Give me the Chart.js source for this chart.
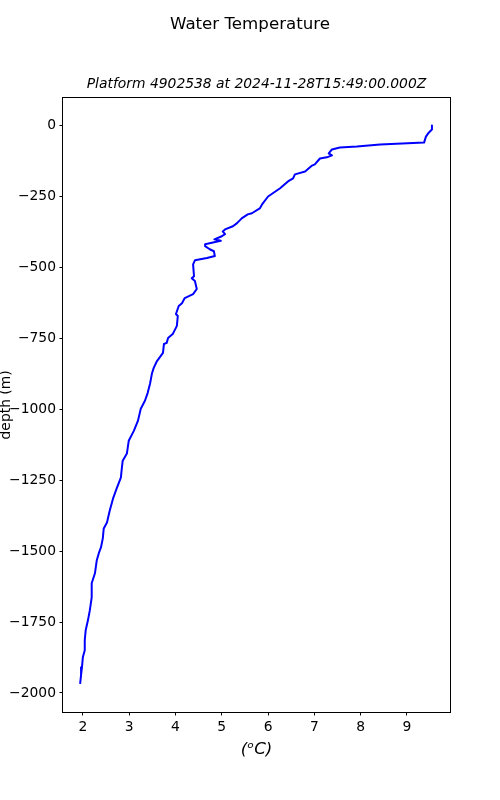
<!DOCTYPE html>
<html>
<head>
<meta charset="utf-8">
<script src="https://cdn.jsdelivr.net/npm/chart.js@4"></script>
<style>
  html, body { margin: 0; padding: 0; background: #fff; }
  canvas { display: block; }
</style>
</head>
<body>
<canvas id="profileChart" width="500" height="800"></canvas>
<script>
// temperature (deg C) and depth (m), top to bottom
const temperature = [
    9.54, 9.54, 9.47, 9.41, 9.37, 8.42, 7.92, 7.55, 7.38, 7.31,
    7.38, 7.27, 7.12, 7.01, 6.95, 6.80, 6.58, 6.54, 6.43, 6.36,
    6.26, 6.00, 5.87, 5.82, 5.65, 5.56, 5.43, 5.33, 5.24, 5.07,
    5.02, 5.07, 5.00, 4.84, 4.98, 4.64, 4.64, 4.74, 4.83, 4.85,
    4.68, 4.42, 4.38, 4.40, 4.35, 4.42, 4.46, 4.38, 4.20, 4.14,
    4.07, 4.01, 4.05, 4.03, 3.94, 3.84, 3.81, 3.75, 3.73, 3.60,
    3.53, 3.49, 3.45, 3.40, 3.34, 3.25, 3.19, 3.10, 2.99, 2.95,
    2.86, 2.84, 2.82, 2.73, 2.65, 2.58, 2.52, 2.45, 2.43, 2.39,
    2.35, 2.30, 2.26, 2.19, 2.19, 2.15, 2.11, 2.06, 2.04, 2.04,
    2.00, 1.98, 1.96, 1.94
];
const depth = [
    0, -14, -25, -39, -60, -67, -74, -77, -84, -98,
    -105, -112, -116, -137, -141, -162, -172, -186, -197, -207,
    -221, -250, -278, -292, -309, -313, -327, -344, -355, -366,
    -373, -383, -390, -401, -406, -418, -425, -436, -443, -460,
    -467, -475, -489, -531, -538, -548, -576, -594, -608, -626,
    -636, -664, -671, -706, -735, -749, -766, -770, -801, -830,
    -854, -875, -910, -942, -970, -998, -1040, -1076, -1111, -1156,
    -1181, -1209, -1241, -1279, -1315, -1357, -1399, -1420, -1455, -1487,
    -1504, -1532, -1578, -1613, -1663, -1708, -1743, -1779, -1814, -1849,
    -1873, -1909, -1937, -1968
];
const xTicks = [2, 3, 4, 5, 6, 7, 8, 9];
const yTicks = [0, -250, -500, -750, -1000, -1250, -1500, -1750, -2000];

const FONT = 'DejaVu Sans';
Chart.defaults.color = '#000';
Chart.defaults.font.family = FONT;

const frame = {
    id: 'frame',
    afterDraw(chart) {
        const a = chart.chartArea;
        const ctx = chart.ctx;
        ctx.save();
        ctx.strokeStyle = '#000';
        ctx.lineWidth = 1;
        ctx.strokeRect(Math.round(a.left) - 0.5, Math.round(a.top) - 0.5,
            Math.round(a.right - a.left) + 1, Math.round(a.bottom - a.top) + 1);
        ctx.restore();
    }
};

const minusSign = v => String(v).replace('-', '\u2212');

new Chart(document.getElementById('profileChart'), {
    type: 'line',
    data: {
        datasets: [{
            data: temperature.map((t, i) => ({ x: t, y: depth[i] })),
            borderColor: '#0000ff',
            borderWidth: 2,
            borderJoinStyle: 'round',
            pointRadius: 0,
            tension: 0,
            fill: false
        }]
    },
    options: {
        responsive: false,
        animation: false,
        devicePixelRatio: 1,
        layout: { padding: 0 },
        plugins: {
            legend: { display: false },
            tooltip: { enabled: false },
            title: {
                display: true,
                text: 'Water Temperature',
                color: '#000',
                font: { family: FONT, size: 16.67, weight: 'normal', lineHeight: 1.2 },
                padding: { top: 14.4, bottom: 0 }
            },
            subtitle: {
                display: true,
                fullSize: false,
                text: 'Platform 4902538 at 2024-11-28T15:49:00.000Z',
                color: '#000',
                font: { family: FONT, size: 13.89, style: 'italic', lineHeight: 1.2 },
                padding: { top: 41.3, bottom: 5.4 }
            }
        },
        scales: {
            x: {
                type: 'linear',
                min: 1.57,
                max: 9.93,
                afterBuildTicks: s => { s.ticks = xTicks.map(v => ({ value: v })); },
                afterFit: s => { s.height = 88; },
                grid: { drawOnChartArea: false, drawTicks: true, tickLength: 3.5, tickColor: '#000', tickWidth: 1 },
                border: { display: false },
                ticks: { padding: 3.5, color: '#000', font: { family: FONT, size: 13.89 }, maxRotation: 0, callback: minusSign },
                title: {
                    display: true,
                    text: '(\u1D52C)',
                    color: '#000',
                    font: { family: FONT, size: 16.67, style: 'italic', lineHeight: 1.2 },
                    padding: { top: 0, bottom: 40 }
                }
            },
            y: {
                type: 'linear',
                min: -2067,
                max: 98,
                afterBuildTicks: s => { s.ticks = yTicks.map(v => ({ value: v })); },
                afterFit: s => { s.width = 63; },
                grid: { drawOnChartArea: false, drawTicks: true, tickLength: 3.5, tickColor: '#000', tickWidth: 1 },
                border: { display: false },
                ticks: { padding: 3.5, color: '#000', font: { family: FONT, size: 13.89 }, callback: minusSign },
                title: {
                    display: true,
                    text: 'depth (m)',
                    color: '#000',
                    font: { family: FONT, size: 13.89, lineHeight: 0.85 },
                    padding: { top: 0, bottom: 0 }
                }
            },
            // empty right-hand axis only to keep the margin right of the plot
            yRight: {
                type: 'linear',
                position: 'right',
                min: -2067,
                max: 98,
                afterFit: s => { s.width = 50; },
                grid: { display: false },
                border: { display: false },
                ticks: { display: false }
            }
        }
    },
    plugins: [frame]
});
</script>
</body>
</html>
